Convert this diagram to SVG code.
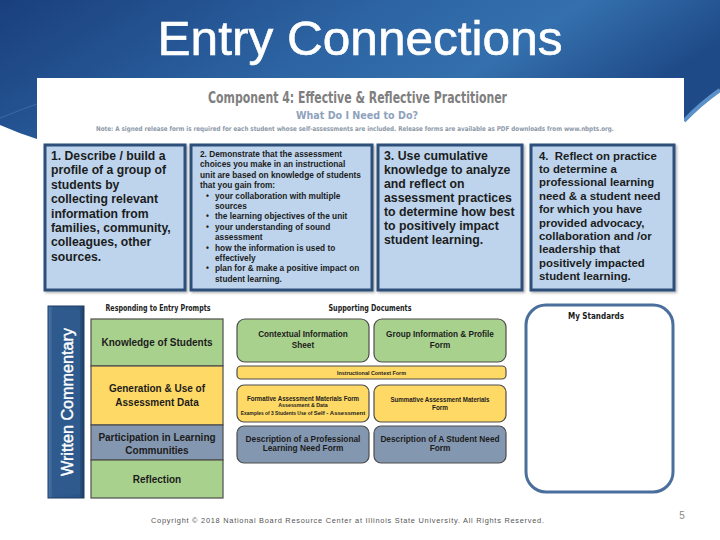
<svg xmlns="http://www.w3.org/2000/svg" width="720" height="540" viewBox="0 0 720 540">
<defs>
<linearGradient id="bg" x1="0" y1="0" x2="1" y2="0.3">
<stop offset="0" stop-color="#1a3f7d"/>
<stop offset="0.5" stop-color="#2d64a3"/>
<stop offset="0.75" stop-color="#3470ad"/>
<stop offset="1" stop-color="#1f4a88"/>
</linearGradient>
<linearGradient id="bar" x1="0" y1="0" x2="1" y2="0">
<stop offset="0" stop-color="#4a76a8"/>
<stop offset="0.15" stop-color="#2e5a8e"/>
<stop offset="0.85" stop-color="#2b5689"/>
<stop offset="1" stop-color="#1e3f68"/>
</linearGradient>
<filter id="sh" x="-5%" y="-5%" width="115%" height="115%">
<feDropShadow dx="1.5" dy="1.5" stdDeviation="1" flood-color="#000" flood-opacity="0.3"/>
</filter>
</defs>
<style>
.arial{font-family:"Liberation Sans",Arial,sans-serif;font-weight:bold;fill:#1c1c1c}
.cond{font-family:"DejaVu Sans Condensed","Liberation Sans Narrow","Liberation Sans",sans-serif;font-weight:bold;font-stretch:condensed}
.top{fill:#bdd4ec;stroke:#2f4f7a;stroke-width:3;filter:url(#sh)}
.green{fill:#a9d18e;stroke:#4d4d4d;stroke-width:1.2}
.yellow{fill:#ffd966;stroke:#4d4d4d;stroke-width:1.2}
.slate{fill:#8497b0;stroke:#4d4d4d;stroke-width:1.2}
.b1{font-size:12.2px}
.b2{font-size:8.3px}
.mid{text-anchor:middle}
</style>
<rect width="720" height="540" fill="#ffffff"/>
<g id="background">
<path d="M0,0 H720 V90 Q700,104 684,121 V78 H37 V139 Q18,133 0,125 Z" fill="url(#bg)"/>
<path d="M684,121 Q700,104 720,90" fill="none" stroke="#5b90c8" stroke-width="4"/>
<path d="M0,118 Q20,110 37,104" fill="none" stroke="#3d6aa3" stroke-width="1"/>
<rect x="37" y="78" width="647" height="462" fill="#ffffff"/>
</g>
<g id="title">
<text x="360" y="55" text-anchor="middle" font-family="Liberation Sans,Arial,sans-serif" font-size="49" fill="#ffffff" stroke="#ffffff" stroke-width="0.6" textLength="405" lengthAdjust="spacingAndGlyphs">Entry Connections</text>
</g>
<g id="header">
<text class="cond" x="357.5" y="103" text-anchor="middle" font-size="15" fill="#7f7f7f" textLength="299" lengthAdjust="spacingAndGlyphs">Component 4: Effective &amp; Reflective Practitioner</text>
<text class="cond" x="357" y="119" text-anchor="middle" font-size="10.5" fill="#8ea2bd" textLength="122" lengthAdjust="spacingAndGlyphs">What Do I Need to Do?</text>
<text class="cond" x="355" y="131" text-anchor="middle" font-size="6.6" fill="#8d99a8" textLength="518" lengthAdjust="spacingAndGlyphs">Note:  A signed release form is required for each student whose self-assessments are included. Release forms are available as PDF downloads from www.nbpts.org.</text>
</g>
<g id="step1">
<rect class="top" x="45" y="145" width="140" height="145"/>
<text class="arial b1" x="51">
<tspan x="51" y="160">1. Describe / build a</tspan>
<tspan x="51" y="174.4">profile of a group of</tspan>
<tspan x="51" y="188.8">students by</tspan>
<tspan x="51" y="203.2">collecting relevant</tspan>
<tspan x="51" y="217.6">information from</tspan>
<tspan x="51" y="232">families, community,</tspan>
<tspan x="51" y="246.4">colleagues, other</tspan>
<tspan x="51" y="260.8">sources.</tspan>
</text>
</g>
<g id="step2">
<rect class="top" x="191" y="145" width="181" height="145"/>
<text class="arial b2">
<tspan x="200" y="157">2. Demonstrate that the assessment</tspan>
<tspan x="200" y="167.4">choices you make in an instructional</tspan>
<tspan x="200" y="177.8">unit are based on knowledge of students</tspan>
<tspan x="200" y="188.2">that you gain from:</tspan>
<tspan x="206" y="198.6">•</tspan><tspan x="215" y="198.6">your collaboration with multiple</tspan>
<tspan x="215" y="209">sources</tspan>
<tspan x="206" y="219.4">•</tspan><tspan x="215" y="219.4">the learning objectives of the unit</tspan>
<tspan x="206" y="229.8">•</tspan><tspan x="215" y="229.8">your understanding of sound</tspan>
<tspan x="215" y="240.2">assessment</tspan>
<tspan x="206" y="250.6">•</tspan><tspan x="215" y="250.6">how the information is used to</tspan>
<tspan x="215" y="261">effectively</tspan>
<tspan x="206" y="271.4">•</tspan><tspan x="215" y="271.4">plan for &amp; make a positive impact on</tspan>
<tspan x="215" y="281.8">student learning.</tspan>
</text>
</g>
<g id="step3">
<rect class="top" x="378" y="145" width="144" height="145"/>
<text class="arial" font-size="12.3">
<tspan x="384" y="159.5">3. Use cumulative</tspan>
<tspan x="384" y="173.6">knowledge to analyze</tspan>
<tspan x="384" y="187.7">and reflect on</tspan>
<tspan x="384" y="201.8">assessment practices</tspan>
<tspan x="384" y="215.9">to determine how best</tspan>
<tspan x="384" y="230">to positively impact</tspan>
<tspan x="384" y="244.1">student learning.</tspan>
</text>
</g>
<g id="step4">
<rect class="top" x="531" y="145" width="143" height="145"/>
<text class="arial" font-size="11.4" style="white-space:pre">
<tspan x="539" y="159.5">4.  Reflect on practice</tspan>
<tspan x="539" y="172.9">to determine a</tspan>
<tspan x="539" y="186.3">professional learning</tspan>
<tspan x="539" y="199.7">need &amp; a student need</tspan>
<tspan x="539" y="213.1">for which you have</tspan>
<tspan x="539" y="226.5">provided advocacy,</tspan>
<tspan x="539" y="239.9">collaboration and /or</tspan>
<tspan x="539" y="253.3">leadership that</tspan>
<tspan x="539" y="266.7">positively impacted</tspan>
<tspan x="539" y="280.1">student learning.</tspan>
</text>
</g>
<g id="written-commentary">
<rect x="48" y="306" width="36" height="192" fill="url(#bar)" stroke="#1d3b62" stroke-width="1"/>
<rect x="52" y="310" width="28" height="184" fill="#2e5a8d"/>
<text transform="translate(72.5,402) rotate(-90)" text-anchor="middle" font-family="Liberation Sans,Arial,sans-serif" font-size="16.2" fill="#ffffff" stroke="#ffffff" stroke-width="0.4">Written Commentary</text>
</g>
<g id="prompts">
<text class="cond" x="158" y="311" text-anchor="middle" font-size="8.5" fill="#222" textLength="105" lengthAdjust="spacingAndGlyphs">Responding to Entry Prompts</text>
<g id="knowledge">
<rect class="green" x="91" y="319" width="132" height="47"/>
<text class="arial mid" x="157" y="346" font-size="10">Knowledge of Students</text>
</g>
<g id="generation">
<rect class="yellow" x="91" y="366" width="132" height="59"/>
<text class="arial mid" font-size="10" fill="#3a3000"><tspan x="157" y="392">Generation &amp; Use of</tspan><tspan x="157" y="406">Assessment Data</tspan></text>
</g>
<g id="participation">
<rect class="slate" x="91" y="425" width="132" height="35"/>
<text class="arial mid" font-size="10" fill="#1a2538"><tspan x="157" y="441">Participation in Learning</tspan><tspan x="157" y="454">Communities</tspan></text>
</g>
<g id="reflection">
<rect class="green" x="91" y="460" width="132" height="38"/>
<text class="arial mid" x="157" y="483" font-size="10">Reflection</text>
</g>
</g>
<g id="supporting">
<text class="cond" x="370" y="311" text-anchor="middle" font-size="8.5" fill="#222" textLength="83" lengthAdjust="spacingAndGlyphs">Supporting Documents</text>
<g id="contextual">
<rect class="green" x="237" y="319" width="132" height="43" rx="8"/>
<text class="arial mid" font-size="8.2"><tspan x="303" y="337">Contextual Information</tspan><tspan x="303" y="347.5">Sheet</tspan></text>
</g>
<g id="group-info">
<rect class="green" x="374" y="319" width="132" height="43" rx="8"/>
<text class="arial mid" font-size="8.2"><tspan x="440" y="337">Group Information &amp; Profile</tspan><tspan x="440" y="347.5">Form</tspan></text>
</g>
<g id="instructional">
<rect class="yellow" x="237" y="366" width="269" height="13" rx="4"/>
<text class="arial mid" x="371.5" y="374.8" font-size="5.4">Instructional Context Form</text>
</g>
<g id="formative">
<rect class="yellow" x="237" y="385" width="132" height="37" rx="7"/>
<text class="arial mid" x="303" y="400.5" font-size="6.8" textLength="112" lengthAdjust="spacingAndGlyphs">Formative Assessment Materials Form</text>
<text class="arial mid" x="303" y="406.8" font-size="5.3">Assessment &amp; Data</text>
<text class="arial mid" x="303" y="414.5" font-size="4.9">Examples of 3 Students Use of <tspan font-size="6">Self - Assessment</tspan></text>
</g>
<g id="summative">
<rect class="yellow" x="374" y="385" width="132" height="37" rx="7"/>
<text class="arial mid" font-size="6.8"><tspan x="440" y="402" textLength="99" lengthAdjust="spacingAndGlyphs">Summative Assessment Materials</tspan><tspan x="440" y="409.5" font-size="6.4">Form</tspan></text>
</g>
<g id="prof-need">
<rect class="slate" x="237" y="426" width="132" height="37" rx="7"/>
<text class="arial mid" font-size="8.3" fill="#1a2538"><tspan x="303" y="442">Description of a Professional</tspan><tspan x="303" y="450.5">Learning Need Form</tspan></text>
</g>
<g id="student-need">
<rect class="slate" x="374" y="426" width="132" height="37" rx="7"/>
<text class="arial mid" font-size="8.3" fill="#1a2538"><tspan x="440" y="442">Description of A Student Need</tspan><tspan x="440" y="450.5">Form</tspan></text>
</g>
</g>
<g id="my-standards">
<rect x="526" y="305" width="147" height="187" rx="20" fill="#ffffff" stroke="#4b6f9c" stroke-width="3"/>
<text class="cond" x="596" y="318.5" text-anchor="middle" font-size="9" fill="#1a1a1a" textLength="56" lengthAdjust="spacingAndGlyphs">My Standards</text>
</g>
<g id="footer">
<text x="347.5" y="523" text-anchor="middle" font-family="Liberation Sans,Arial,sans-serif" font-size="7.4" fill="#555" textLength="393" lengthAdjust="spacing">Copyright © 2018 National Board Resource Center at Illinois State University.  All Rights Reserved.</text>
<text x="682" y="518.5" text-anchor="middle" font-family="Liberation Sans,Arial,sans-serif" font-size="10" fill="#888">5</text>
</g>
</svg>
